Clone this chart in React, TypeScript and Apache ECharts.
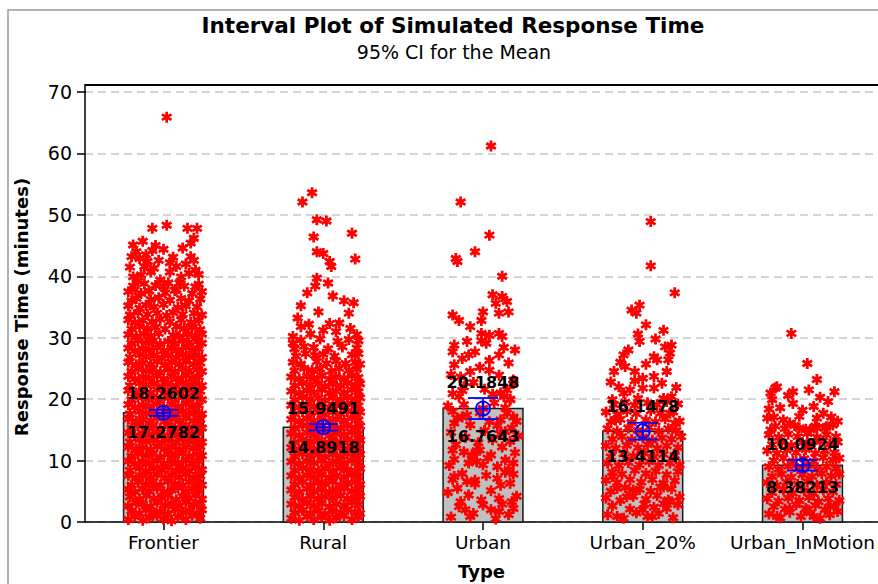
import React, { useEffect, useRef } from "react";
import * as echarts from "echarts";

// ---------- data ----------
const categories = ["Frontier", "Rural", "Urban", "Urban_20%", "Urban_InMotion"];
const ciLower = [17.2782, 14.8918, 16.7643, 13.4114, 8.38213];
const ciUpper = [18.2602, 15.9491, 20.1848, 16.1478, 10.0924];
const means = [17.77, 15.42, 18.47, 14.78, 9.24];
const yTickValues = [0, 10, 20, 30, 40, 50, 60, 70];

// each point: [jitter in hundredths of a category slot, response time]
const frontierPoints: [number, number][] = [
  [-22,0.4],[-18,0.9],[-13,0.3],[-9,0.7],[-4,1.0],[0,0.5],[5,0.2],[9,0.8],[14,0.4],[18,1.1],[23,0.6],
  [-20,1.8],[-15,1.4],[-11,2.0],[-6,1.5],[-2,1.7],[3,1.3],[7,2.1],[12,1.6],[16,1.9],[21,1.4],[24,2.0],
  [-22,2.6],[-17,3.1],[-13,2.9],[-8,2.5],[-4,3.2],[1,2.7],[5,3.0],[10,2.6],[14,3.3],[19,2.8],[23,3.1],
  [-21,4.1],[-15,3.7],[-11,4.3],[-6,3.8],[-1,4.0],[3,4.4],[8,3.6],[12,4.2],[16,3.9],[20,4.4],[24,3.7],
  [-22,5.3],[-18,4.9],[-13,5.4],[-9,5.0],[-4,5.5],[0,4.9],[5,5.2],[9,5.6],[14,5.0],[18,5.4],[22,5.1],
  [-20,6.0],[-16,6.5],[-11,6.1],[-7,6.4],[-2,6.0],[3,6.6],[7,6.2],[12,6.0],[16,6.5],[21,6.3],[24,6.0],
  [-22,7.6],[-17,7.2],[-13,7.5],[-8,7.3],[-4,7.7],[1,7.2],[5,7.6],[10,7.3],[14,7.8],[19,7.2],[23,7.5],
  [-21,8.4],[-15,8.8],[-11,8.3],[-6,8.7],[-1,8.5],[3,8.9],[8,8.4],[12,8.7],[16,8.3],[20,8.8],[24,8.5],
  [-22,9.9],[-18,9.5],[-13,9.8],[-9,9.6],[-4,10.0],[0,9.5],[5,9.9],[9,9.6],[14,10.0],[18,9.6],[22,9.9],
  [-20,10.7],[-16,11.1],[-11,10.8],[-7,11.0],[-2,10.6],[3,11.0],[7,10.8],[12,11.2],[16,10.7],[21,11.0],[24,10.8],
  [-22,12.2],[-17,11.9],[-13,12.1],[-8,11.8],[-4,12.3],[1,11.9],[5,12.2],[10,11.8],[14,12.2],[19,12.0],[23,12.3],
  [-21,13.0],[-15,13.4],[-11,13.1],[-6,13.3],[-1,12.9],[3,13.3],[8,13.0],[12,13.4],[16,13.1],[20,13.3],[24,13.0],
  [-22,14.5],[-18,14.1],[-13,14.4],[-9,14.2],[-4,14.6],[0,14.1],[5,14.5],[9,14.2],[14,14.6],[18,14.2],[22,14.4],
  [-20,15.3],[-16,15.7],[-11,15.4],[-7,15.6],[-2,15.2],[3,15.6],[7,15.3],[12,15.7],[16,15.4],[21,15.6],[24,15.3],
  [-22,16.8],[-17,16.4],[-13,16.7],[-8,16.5],[-4,16.9],[1,16.4],[5,16.8],[10,16.5],[14,16.9],[19,16.5],[23,16.7],
  [-21,17.6],[-15,18.0],[-11,17.7],[-6,17.9],[-1,17.5],[3,17.9],[8,17.6],[12,18.0],[16,17.7],[20,17.9],[24,17.6],
  [-22,19.1],[-18,18.7],[-13,19.0],[-9,18.8],[-4,19.2],[0,18.7],[5,19.1],[9,18.8],[14,19.2],[18,18.8],[22,19.0],
  [-20,19.9],[-16,20.3],[-11,20.0],[-7,20.2],[-2,19.8],[3,20.2],[7,19.9],[12,20.3],[16,20.0],[21,20.2],[24,19.9],
  [-22,21.4],[-17,21.0],[-13,21.3],[-8,21.1],[-4,21.5],[1,21.0],[5,21.4],[10,21.1],[14,21.5],[19,21.1],[23,21.3],
  [-21,22.2],[-15,22.6],[-11,22.3],[-6,22.5],[-1,22.1],[3,22.5],[8,22.2],[12,22.6],[16,22.3],[20,22.5],[24,22.2],
  [-22,23.7],[-18,23.3],[-13,23.6],[-9,23.4],[-4,23.8],[0,23.3],[5,23.7],[9,23.4],[14,23.8],[18,23.4],[22,23.6],
  [-20,24.5],[-16,24.9],[-11,24.6],[-7,24.8],[-2,24.4],[3,24.8],[7,24.5],[12,24.9],[16,24.6],[21,24.8],[24,24.5],
  [-22,26.0],[-17,25.6],[-13,25.9],[-8,25.7],[-4,26.1],[1,25.6],[5,26.0],[10,25.7],[14,26.1],[19,25.7],[23,25.9],
  [-21,26.8],[-15,27.2],[-11,26.9],[-6,27.1],[-1,26.7],[3,27.1],[8,26.8],[12,27.2],[16,26.9],[20,27.1],[24,26.8],
  [-22,28.3],[-18,27.9],[-13,28.2],[-9,28.0],[-4,28.4],[0,27.9],[5,28.3],[9,28.0],[14,28.4],[18,28.0],[22,28.2],
  [-20,29.1],[-16,29.5],[-11,29.2],[-7,29.4],[-2,29.0],[3,29.4],[7,29.1],[12,29.5],[16,29.2],[21,29.4],[24,29.1],
  [-22,30.5],[-17,30.2],[-12,30.6],[-8,30.3],[-3,30.7],[6,30.4],[10,30.2],[15,30.6],[20,30.3],[24,30.6],
  [-20,31.4],[-15,31.8],[-10,31.5],[-5,31.7],[1,31.4],[8,31.8],[13,31.5],[18,31.7],[23,31.3],
  [-22,32.9],[-18,32.5],[-13,32.8],[-7,32.6],[-2,33.0],[4,32.6],[11,32.9],[17,32.5],[22,32.8],
  [-21,33.7],[-16,34.1],[-10,33.8],[-4,34.0],[2,33.6],[6,34.1],[12,33.8],[19,34.0],[24,33.7],
  [-22,35.2],[-15,34.8],[-11,35.3],[-6,35.0],[0,35.4],[9,34.9],[14,35.2],[21,35.0],
  [-20,36.0],[-17,36.4],[-8,36.2],[-3,36.5],[4,36.1],[11,36.4],[16,36.0],[23,36.3],
  [-22,37.5],[-14,37.2],[-9,37.6],[1,37.3],[7,37.7],[18,37.2],[24,37.5],
  [-19,38.4],[-12,38.8],[-5,38.5],[3,38.9],[13,38.4],[22,38.7],
  [-7,47.8],[2,48.3],[15,47.8],[21,47.8],[-13,45.7],[-19,45.1],[17,45.4],[19,46.2],[-7,44.2],[0,44.4],
  [6,43.1],[-20,43.2],[17,43.2],[19,42.6],[-10,42.4],[-3,42.6],[8,41.6],[-19,39.9],[-14,40.2],[-8,40.7],
  [-2,39.4],[4,40.7],[11,39.9],[20,41.0],[20,38.3],[-18,37.8],[-12,41.6],[0,38.3],[8,37.8],
  [-17,44.0],[-15,42.9],[-21,41.5],[-11,43.5],[-5,45.0],[12,44.6],[14,42.0],[22,40.3],[-16,39.2],[10,38.9],
  [16,40.5],[-6,41.3],[4,42.2],
  [2,65.9],
];

const ruralPoints: [number, number][] = [
  [-20,0.6],[-15,0.3],[-10,0.9],[-6,0.4],[-1,0.8],[4,0.3],[8,0.7],[13,1.0],[18,0.4],[22,0.8],
  [-18,1.5],[-13,1.9],[-8,1.4],[-3,1.8],[1,1.3],[6,1.7],[11,1.5],[15,2.0],[20,1.6],[23,1.4],
  [-20,2.9],[-15,2.6],[-10,3.1],[-6,2.7],[-1,3.0],[4,2.5],[8,2.9],[13,2.7],[18,3.2],[22,2.8],
  [-18,4.0],[-13,3.7],[-8,4.2],[-3,3.8],[1,4.1],[6,3.9],[11,4.3],[15,3.8],[20,4.0],[23,4.2],
  [-20,5.2],[-15,4.9],[-10,5.4],[-6,5.0],[-1,5.3],[4,4.9],[8,5.2],[13,5.5],[18,5.0],[22,5.3],
  [-18,6.1],[-13,6.5],[-8,6.0],[-3,6.4],[1,6.2],[6,6.6],[11,6.0],[15,6.3],[20,6.5],[23,6.1],
  [-20,7.5],[-15,7.2],[-10,7.6],[-6,7.3],[-1,7.7],[4,7.2],[8,7.5],[13,7.3],[18,7.7],[22,7.4],
  [-18,8.4],[-13,8.8],[-8,8.5],[-3,8.3],[1,8.7],[6,8.4],[11,8.8],[15,8.5],[20,8.3],[23,8.7],
  [-20,9.8],[-15,9.5],[-10,9.9],[-6,9.6],[-1,10.0],[4,9.5],[8,9.8],[13,9.6],[18,10.0],[22,9.7],
  [-18,10.7],[-13,11.1],[-8,10.8],[-3,11.0],[1,10.6],[6,11.0],[11,10.7],[15,11.1],[20,10.8],[23,11.0],
  [-20,12.1],[-15,11.8],[-10,12.2],[-6,11.9],[-1,12.3],[4,11.8],[8,12.1],[13,11.9],[18,12.3],[22,12.0],
  [-18,13.0],[-13,13.4],[-8,13.1],[-3,13.3],[1,12.9],[6,13.3],[11,13.0],[15,13.4],[20,13.1],[23,13.3],
  [-20,14.4],[-15,14.1],[-10,14.5],[-6,14.2],[-1,14.6],[4,14.1],[8,14.4],[13,14.2],[18,14.6],[22,14.3],
  [-18,15.3],[-13,15.7],[-8,15.4],[-3,15.6],[1,15.2],[6,15.6],[11,15.3],[15,15.7],[20,15.4],[23,15.6],
  [-20,16.7],[-15,16.4],[-10,16.8],[-6,16.5],[-1,16.9],[4,16.4],[8,16.7],[13,16.5],[18,16.9],[22,16.6],
  [-18,17.6],[-13,18.0],[-8,17.7],[-3,17.9],[1,17.5],[6,17.9],[11,17.6],[15,18.0],[20,17.7],[23,17.9],
  [-20,19.0],[-15,18.7],[-10,19.1],[-6,18.8],[-1,19.2],[4,18.7],[8,19.0],[13,18.8],[18,19.2],[22,18.9],
  [-18,19.9],[-13,20.3],[-8,20.0],[-3,20.2],[1,19.8],[6,20.2],[11,19.9],[15,20.3],[20,20.0],[23,20.2],
  [-20,21.3],[-15,21.0],[-10,21.4],[-6,21.1],[-1,21.5],[4,21.0],[8,21.3],[13,21.1],[18,21.5],[22,21.2],
  [-18,22.2],[-13,22.6],[-8,22.3],[-3,22.5],[1,22.1],[6,22.5],[11,22.2],[15,22.6],[20,22.3],[23,22.5],
  [-20,23.6],[-15,23.3],[-10,23.7],[-6,23.4],[-1,23.8],[4,23.3],[8,23.6],[13,23.4],[18,23.8],[22,23.5],
  [-18,24.6],[-12,25.0],[-7,24.7],[-2,24.9],[5,24.6],[10,25.0],[16,24.7],[21,24.9],
  [-19,26.0],[-14,25.7],[-4,26.1],[2,25.8],[8,26.2],[14,25.8],[20,26.0],[23,25.7],
  [-17,27.0],[-11,27.4],[-5,27.1],[0,27.3],[7,27.0],[18,27.2],[22,27.4],
  [-18,28.2],[-12,28.6],[-6,28.4],[3,28.2],[12,28.5],[21,28.3],
  [-19,29.1],[-14,29.6],[-2,29.8],[9,29.4],[16,29.7],[22,29.5],
  [-13,52.1],[-7,53.6],[-4,49.2],[2,49.0],[-6,46.4],[18,47.0],[20,42.8],[-4,44.0],[0,43.7],[4,42.4],
  [5,41.6],[-4,39.7],[3,38.9],[-5,38.4],[-14,35.2],[-3,34.2],[-16,33.2],[16,34.0],[-9,32.2],[4,32.3],
  [10,32.4],[17,31.5],[-14,31.8],[-8,30.6],[8,31.0],[21,30.5],[-19,30.2],[13,36.0],[-10,37.3],[6,36.8],
  [19,35.7],[0,31.2],
];

const urbanPoints: [number, number][] = [
  [5,61.2],[-14,52.1],[4,46.7],[-5,44.0],[-17,42.9],[-16,42.4],[12,40.0],[6,37.0],[12,36.7],[8,35.6],
  [15,35.9],[16,34.2],[10,34.0],[-19,33.7],[-15,32.8],[0,34.2],[-1,32.8],[-8,31.8],[-1,30.7],[4,30.4],
  [10,30.7],[12,30.2],[-18,28.8],[-10,29.4],[2,29.1],[-5,27.7],[-19,27.7],[-13,26.6],[10,27.2],[-18,25.6],
  [-8,24.5],[-2,25.2],[4,24.7],[19,23.1],[-12,22.0],[15,21.5],[13,20.4],[17,19.9],[-15,20.4],[11,21.0],
  [-19,18.0],[-13,17.1],[-18,16.1],[15,17.7],[19,17.1],[11,16.6],[18,15.3],[14,14.7],[-19,11.7],[-12,11.4],
  [-7,10.9],[-2,11.7],[3,10.4],[-9,9.6],[-4,9.8],[0,9.3],[5,10.9],[14,10.1],[19,9.6],[16,8.5],
  [-18,7.4],[-10,6.6],[-5,6.8],[-16,5.5],[9,7.1],[11,6.0],[18,3.3],[19,2.2],[0,2.8],[5,2.0],
  [10,1.7],[-8,0.9],[-14,3.3],
  [-20,0.8],[-6,1.4],[8,0.5],[16,1.2],[-15,2.5],[-1,3.6],[12,2.9],[21,4.2],
  [-22,4.8],[-9,4.4],[5,5.1],[17,6.3],[-13,7.9],[2,7.6],[14,8.1],[-21,9.2],
  [-6,10.6],[9,9.0],[20,11.3],[-17,12.6],[-3,12.9],[6,13.4],[17,13.1],[-11,13.8],
  [-20,14.6],[1,14.9],[11,14.3],[22,14.0],[-8,15.8],[4,16.3],[-16,16.9],[14,18.6],
  [-2,17.8],[-12,19.1],[7,19.4],[-19,20.9],[1,21.6],[-6,22.7],[19,22.5],[-14,23.6],
  [10,23.9],[-20,24.0],[4,26.3],[16,25.9],[-9,27.2],[13,28.4],[-1,29.5],[20,28.0],
  [-18,10.2],[-4,11.6],[12,12.2],[21,16.4],[-10,17.4],[9,15.7],[-22,18.9],[17,20.0],
  [-13,21.4],[6,20.8],[-5,6.2],[10,3.8],[-11,2.0],[19,7.8],[-19,6.9],[0,18.5],
];

const urban20Points: [number, number][] = [
  [5,48.9],[5,41.7],[20,37.3],[-2,35.3],[-7,34.5],[-4,34.0],[2,32.1],[-2,29.4],[14,28.5],[18,28.8],
  [7,26.9],[9,26.4],[16,26.4],[-12,27.2],[-18,24.5],[-11,25.3],[-5,24.5],[0,23.4],[7,23.7],[15,24.5],
  [-15,22.0],[-8,21.5],[0,21.8],[7,21.8],[13,20.1],[18,20.4],[-12,21.0],[-3,20.1],[-17,16.6],[17,17.7],
  [20,16.1],[-16,0.9],[0,2.0],[6,0.9],[13,3.0],[17,3.3],[-10,4.1],[-6,5.2],[-16,5.5],[13,5.7],[-19,7.4],
  [-22,1.2],[-12,0.6],[-4,1.5],[3,0.9],[10,1.4],[19,0.7],
  [-19,2.6],[-8,2.1],[1,2.9],[7,2.4],[15,2.2],[22,2.8],
  [-23,3.9],[-14,3.5],[-6,4.2],[2,3.7],[9,4.3],[16,3.6],[23,4.1],
  [-20,5.0],[-11,5.6],[-2,5.3],[5,5.0],[11,5.7],[18,5.4],
  [-23,6.8],[-16,6.4],[-8,6.9],[-1,6.5],[6,6.9],[13,6.3],[20,6.7],
  [-19,8.1],[-13,7.8],[-5,8.4],[2,7.9],[8,8.3],[15,7.7],[22,8.2],
  [-22,9.6],[-15,9.2],[-9,9.7],[-2,9.3],[4,9.8],[10,9.2],[17,9.6],[23,9.3],
  [-20,10.6],[-12,11.1],[-6,10.7],[1,11.2],[7,10.6],[13,11.0],[20,10.8],
  [-23,12.4],[-17,12.0],[-10,12.5],[-3,12.1],[3,12.6],[9,12.0],[15,12.4],[22,12.1],
  [-19,13.5],[-13,13.9],[-7,13.4],[0,13.8],[6,13.3],[12,13.7],[18,13.5],[24,13.9],
  [-22,15.2],[-16,14.8],[-9,15.3],[-3,14.9],[4,15.4],[10,14.8],[16,15.2],[21,14.9],
  [-20,16.3],[-14,16.7],[-7,16.2],[2,16.6],[8,16.3],[14,16.8],[23,16.4],
  [-23,17.9],[-16,17.5],[-10,18.0],[-4,17.6],[5,18.1],[11,17.7],[19,17.9],
  [-18,19.1],[-11,19.5],[-5,19.0],[3,19.4],[9,19.1],[15,19.6],[22,19.2],
  [-20,22.8],[-5,23.0],[12,22.6],[21,21.9],[-14,26.0],[2,25.7],[17,27.5],[-9,28.0],
  [8,29.8],[-3,30.6],[13,31.2],[-19,19.9],
];

const inMotionPoints: [number, number][] = [
  [-7,30.7],[3,25.8],[9,23.2],[-17,21.8],[-20,21.0],[-6,21.2],[-19,19.9],[0,18.2],[13,17.7],[18,17.1],
  [-18,17.1],[-12,16.6],[-8,16.1],[15,15.5],[-2,15.3],[5,15.0],[9,15.3],[-20,15.0],[-16,0.9],[3,2.0],
  [7,0.9],[-8,2.2],[17,2.5],
  [-21,1.3],[-14,0.7],[-8,1.6],[-1,0.9],[5,1.5],[11,0.6],[17,1.2],[22,1.7],
  [-18,2.5],[-11,2.1],[-4,2.8],[2,2.2],[8,2.7],[14,2.0],[20,2.6],
  [-22,3.8],[-15,3.4],[-9,3.9],[-2,3.5],[4,4.0],[10,3.3],[16,3.8],[23,3.5],
  [-19,4.8],[-12,5.2],[-6,4.7],[1,5.1],[7,4.6],[13,5.2],[19,4.9],
  [-22,6.4],[-16,6.0],[-10,6.5],[-3,6.1],[3,6.6],[9,6.0],[15,6.4],[21,6.1],
  [-19,7.4],[-13,7.8],[-7,7.3],[0,7.7],[6,7.4],[12,7.9],[18,7.5],[23,7.8],
  [-21,9.0],[-15,8.6],[-9,9.1],[-3,8.7],[3,9.2],[9,8.6],[15,9.0],[21,8.7],
  [-18,10.0],[-12,10.4],[-6,9.9],[1,10.3],[7,9.9],[13,10.5],[19,10.1],[23,10.4],
  [-22,11.6],[-16,11.2],[-10,11.7],[-4,11.3],[2,11.8],[8,11.2],[14,11.6],[20,11.3],
  [-19,12.6],[-13,13.0],[-7,12.5],[0,12.9],[5,12.6],[11,13.1],[17,12.7],[22,13.0],
  [-21,14.2],[-15,13.8],[-9,14.3],[-3,13.9],[3,14.4],[9,13.8],[15,14.2],[21,13.9],
  [-17,15.6],[-11,15.2],[-5,15.7],[2,15.1],[8,15.6],[14,15.3],[19,15.8],
  [-14,18.6],[-6,19.3],[7,18.8],[16,19.6],[-21,18.4],[-9,20.6],[11,20.3],[20,21.2],
  [-16,22.0],[-2,17.2],[9,16.9],[22,16.4],[-22,16.9],[4,21.5],
];

const pointsByCategory = [frontierPoints, ruralPoints, urbanPoints, urban20Points, inMotionPoints];

const ASTERISK =
  "path://M-1.25,-5L1.25,-5L1.25,5L-1.25,5Z" +
  "M3.7,3.58L-4.95,-1.42L-3.7,-3.58L4.95,1.42Z" +
  "M-3.7,3.58L-4.95,1.42L3.7,-3.58L4.95,-1.42Z";

const FONT = "DejaVu Sans";

export default function App() {
  const ref = useRef<HTMLDivElement>(null);

  useEffect(() => {
    if (!ref.current) return;
    const chart = echarts.init(ref.current, null, { renderer: "svg" });

    const scatterData: number[][] = [];
    pointsByCategory.forEach((pts, i) => {
      pts.forEach(([j, v]) => scatterData.push([i + 1 + j / 100, v]));
    });

    const barData = means.map((m, i) => [i + 1, m]);
    const ciData = categories.map((_, i) => [i + 1, ciLower[i], ciUpper[i], means[i]]);

    const blue = "#0000ff";

    const option: any = {
      animation: false,
      backgroundColor: "#ffffff",
      textStyle: { fontFamily: FONT },
      grid: {
        left: 85,
        right: 0,
        top: 92,
        bottom: 62,
        containLabel: false,
        outerBoundsMode: "none",
      },
      xAxis: {
        type: "value",
        min: 0.5086,
        max: 5.4726,
        axisLine: { show: true, onZero: false, lineStyle: { color: "#000", width: 1.5 } },
        axisTick: {
          show: true,
          customValues: [1, 2, 3, 4, 5],
          length: 8,
          lineStyle: { color: "#000", width: 1.5 },
        },
        axisLabel: {
          customValues: [1, 2, 3, 4, 5],
          formatter: (v: number) =>
            Math.abs(v - Math.round(v)) < 1e-6 ? categories[Math.round(v) - 1] ?? "" : "",
          color: "#000",
          fontSize: 18.5,
          fontFamily: FONT,
          margin: 11,
        },
        splitLine: { show: false },
        name: "Type",
        nameLocation: "middle",
        nameGap: 40,
        nameTextStyle: { fontWeight: "bold", fontSize: 18, color: "#000", fontFamily: FONT },
      },
      yAxis: {
        type: "value",
        min: 0,
        max: 70,
        interval: 10,
        axisLine: { show: true, lineStyle: { color: "#000", width: 1.5 } },
        axisTick: { show: true, length: 8, lineStyle: { color: "#000", width: 1.5 } },
        axisLabel: {
          customValues: yTickValues,
          color: "#000",
          fontSize: 19,
          fontFamily: FONT,
          margin: 13,
        },
        splitLine: { show: true, lineStyle: { color: "#c8c8c8", type: [8, 5], width: 1.5 } },
        name: "Response Time (minutes)",
        nameLocation: "middle",
        nameGap: 55,
        nameRotate: 90,
        nameTextStyle: { fontWeight: "bold", fontSize: 18, color: "#000", fontFamily: FONT },
      },
      series: [
        {
          type: "custom",
          z: 1,
          silent: true,
          data: barData,
          renderItem: (_params: any, api: any) => {
            const x = api.value(0);
            const m = api.value(1);
            const p1 = api.coord([x - 0.25, m]);
            const p2 = api.coord([x + 0.25, 0]);
            return {
              type: "rect",
              shape: { x: p1[0], y: p1[1], width: p2[0] - p1[0], height: p2[1] - p1[1] },
              style: { fill: "#c0c0c0", stroke: "#1a1a1a", lineWidth: 1.5 },
            };
          },
        },
        {
          type: "scatter",
          z: 2,
          silent: true,
          symbol: ASTERISK,
          symbolSize: 11,
          itemStyle: { color: "#ff0000", opacity: 1 },
          data: scatterData,
        },
        {
          type: "custom",
          z: 3,
          silent: true,
          data: ciData,
          renderItem: (_params: any, api: any) => {
            const x = api.value(0);
            const lo = api.value(1);
            const hi = api.value(2);
            const m = api.value(3);
            const pl = api.coord([x, lo]);
            const pu = api.coord([x, hi]);
            const pm = api.coord([x, m]);
            const cap = 15;
            const r = 7;
            const ls = { stroke: blue, lineWidth: 1.8, fill: "none" };
            return {
              type: "group",
              children: [
                { type: "line", shape: { x1: pu[0], y1: pu[1], x2: pl[0], y2: pl[1] }, style: ls },
                { type: "line", shape: { x1: pu[0] - cap, y1: pu[1], x2: pu[0] + cap, y2: pu[1] }, style: ls },
                { type: "line", shape: { x1: pl[0] - cap, y1: pl[1], x2: pl[0] + cap, y2: pl[1] }, style: ls },
                { type: "circle", shape: { cx: pm[0], cy: pm[1], r }, style: ls },
                { type: "line", shape: { x1: pm[0] - r, y1: pm[1], x2: pm[0] + r, y2: pm[1] }, style: ls },
                { type: "line", shape: { x1: pm[0], y1: pm[1] - r, x2: pm[0], y2: pm[1] + r }, style: ls },
                {
                  type: "text",
                  x: pu[0],
                  y: pu[1] - 16,
                  style: {
                    text: String(hi),
                    align: "center",
                    verticalAlign: "middle",
                    textAlign: "center",
                    textVerticalAlign: "middle",
                    font: `bold 16px "${FONT}"`,
                    fill: "#000",
                  },
                },
                {
                  type: "text",
                  x: pl[0],
                  y: pl[1] + 17,
                  style: {
                    text: String(lo),
                    align: "center",
                    verticalAlign: "middle",
                    textAlign: "center",
                    textVerticalAlign: "middle",
                    font: `bold 16px "${FONT}"`,
                    fill: "#000",
                  },
                },
              ],
            };
          },
        },
      ],
      graphic: [
        {
          type: "rect",
          z: 0,
          silent: true,
          shape: { x: 8, y: 10, width: 900, height: 600 },
          style: { fill: "none", stroke: "#9a9a9a", lineWidth: 1.5 },
        },
        {
          type: "line",
          z: 10,
          silent: true,
          shape: { x1: 85, y1: 85, x2: 878, y2: 85 },
          style: { stroke: "#000", lineWidth: 2 },
        },
        {
          type: "line",
          z: 10,
          silent: true,
          shape: { x1: 85, y1: 84, x2: 85, y2: 93 },
          style: { stroke: "#000", lineWidth: 1.5 },
        },
        {
          type: "text",
          x: 453,
          y: 25,
          silent: true,
          style: {
            text: "Interval Plot of Simulated Response Time",
            align: "center",
            verticalAlign: "middle",
            font: `bold 21.5px "${FONT}"`,
            fill: "#000",
          },
        },
        {
          type: "text",
          x: 454,
          y: 52,
          silent: true,
          style: {
            text: "95% CI for the Mean",
            align: "center",
            verticalAlign: "middle",
            font: `19px "${FONT}"`,
            fill: "#000",
          },
        },
      ],
    };

    chart.setOption(option);
    return () => chart.dispose();
  }, []);

  return (
    <div
      ref={ref}
      style={{ position: "fixed", left: 0, top: 0, width: 878, height: 584, background: "#fff" }}
    />
  );
}
